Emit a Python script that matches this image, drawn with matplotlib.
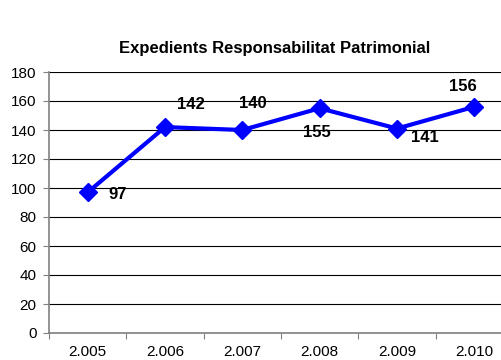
import matplotlib.pyplot as plt

plt.rcParams['font.family'] = ['Liberation Sans', 'DejaVu Sans']

years = ["2.005", "2.006", "2.007", "2.008", "2.009", "2.010"]
values = [97, 142, 140, 155, 141, 156]
# label offsets in pixels (dx, dy)
label_offsets = [(30, -2), (26, 23), (10, 26), (-3, -24), (28, -9), (-11, 20)]

fig = plt.figure(figsize=(5.02, 3.6), dpi=100)
ax = fig.add_axes([49 / 502, 0.075, 464 / 502, 0.725])

x = [i + 0.5 for i in range(len(years))]
ax.plot(x, values, color='#0000ff', linewidth=3, marker='D', markersize=9,
        zorder=3, clip_on=False)

for xi, v, (dx, dy) in zip(x, values, label_offsets):
    ax.annotate(str(v), (xi, v), xytext=(dx, dy), textcoords='offset pixels',
                ha='center', va='center', fontsize=12, fontweight='bold')

ax.set_xlim(0, len(years))
ax.set_ylim(0, 180)
ax.set_yticks(range(0, 181, 20))
ax.set_xticks(range(0, len(years) + 1))
ax.set_xticklabels([])
ax.set_xticks(x, minor=True)
ax.set_xticklabels(years, minor=True)
ax.tick_params(axis='x', which='minor', length=0, pad=9, labelsize=11)
ax.tick_params(axis='x', which='major', length=4, color='#808080', direction='out')
ax.tick_params(axis='y', length=4, color='#808080', direction='out', labelsize=11, pad=5)

ax.grid(axis='y', color='black', linewidth=0.8)
ax.set_axisbelow(True)
for side in ['top', 'right']:
    ax.spines[side].set_visible(False)
for side in ['left', 'bottom']:
    ax.spines[side].set_color('#808080')
    ax.spines[side].set_linewidth(1.2)

fig.text(0.548, 0.865, "Expedients Responsabilitat Patrimonial", ha='center',
         va='center', fontsize=12, fontweight='bold')

fig.savefig('out.png', dpi=100)
